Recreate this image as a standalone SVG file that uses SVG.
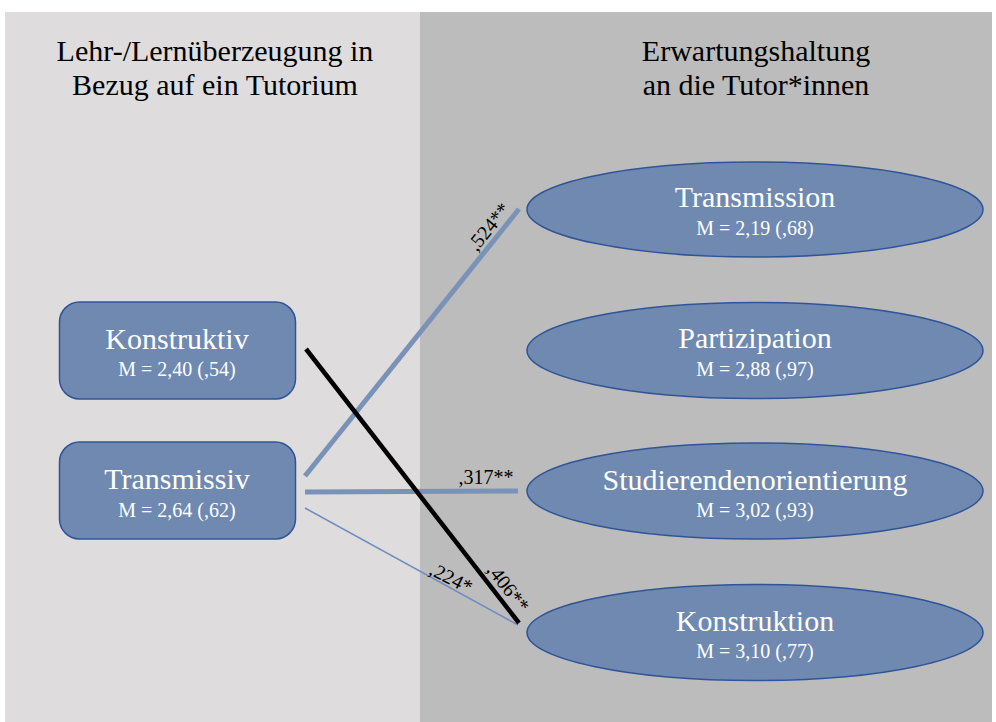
<svg xmlns="http://www.w3.org/2000/svg" width="996" height="722" viewBox="0 0 996 722">
<style>
text{font-family:'Liberation Serif','Times New Roman',Times,serif}
.title{font-size:30px;fill:#000;text-anchor:middle}
.node{fill:#7089b0;stroke:#2f5597;stroke-width:1.5}
.main{font-size:30px;fill:#fff;text-anchor:middle}
.sub{font-size:20px;fill:#fff;text-anchor:middle}
.lab{font-size:20px;fill:#000;text-anchor:middle}
.blue{stroke:#7a92b8;fill:none}
</style>
<rect x="0" y="0" width="996" height="722" fill="#ffffff"/>
<rect x="5" y="12" width="415" height="710" fill="#dedcdd"/>
<rect x="420" y="12" width="572" height="710" fill="#bcbcbc"/>
<g id="titles">
<text class="title" x="215" y="61" font-family="Liberation Serif, serif">Lehr-/Lernüberzeugung in</text>
<text class="title" x="215" y="95" font-family="Liberation Serif, serif">Bezug auf ein Tutorium</text>
<text class="title" x="756" y="61" font-family="Liberation Serif, serif">Erwartungshaltung</text>
<text class="title" x="756" y="95" font-family="Liberation Serif, serif">an die Tutor*innen</text>
</g>
<g id="connectors">
<line class="blue" x1="305" y1="476" x2="519" y2="209" stroke-width="5"/>
<line class="blue" x1="305" y1="492" x2="518" y2="491" stroke-width="5"/>
<line x1="305" y1="508" x2="518" y2="625" stroke="#6f8cc0" stroke-width="1.5"/>
<line x1="306" y1="349" x2="519" y2="623" stroke="#000" stroke-width="4.5"/>
<text class="lab" transform="translate(494,231) rotate(-51)">,524**</text>
<text class="lab" x="486" y="484">,317**</text>
<text class="lab" transform="translate(448,584) rotate(27)">,224*</text>
<text class="lab" transform="translate(503,592) rotate(52)">,406**</text>
</g>
<g id="konstruktiv">
<rect class="node" x="59.5" y="302" width="236" height="97" rx="20"/>
<text class="main" x="177" y="349">Konstruktiv</text>
<text class="sub" x="177" y="376">M = 2,40 (,54)</text>
</g>
<g id="transmissiv">
<rect class="node" x="59.5" y="442" width="236" height="97" rx="20"/>
<text class="main" x="177" y="489">Transmissiv</text>
<text class="sub" x="177" y="517">M = 2,64 (,62)</text>
</g>
<g id="transmission">
<ellipse class="node" cx="755" cy="209.5" rx="228" ry="47.5"/>
<text class="main" x="755" y="207">Transmission</text>
<text class="sub" x="755" y="235">M = 2,19 (,68)</text>
</g>
<g id="partizipation">
<ellipse class="node" cx="755" cy="350.5" rx="228" ry="48"/>
<text class="main" x="755" y="348">Partizipation</text>
<text class="sub" x="755" y="376">M = 2,88 (,97)</text>
</g>
<g id="studierendenorientierung">
<ellipse class="node" cx="755" cy="491" rx="228" ry="48"/>
<text class="main" x="755" y="490">Studierendenorientierung</text>
<text class="sub" x="755" y="517">M = 3,02 (,93)</text>
</g>
<g id="konstruktion">
<ellipse class="node" cx="755" cy="632.5" rx="228" ry="48"/>
<text class="main" x="755" y="631">Konstruktion</text>
<text class="sub" x="755" y="658">M = 3,10 (,77)</text>
</g>
</svg>
